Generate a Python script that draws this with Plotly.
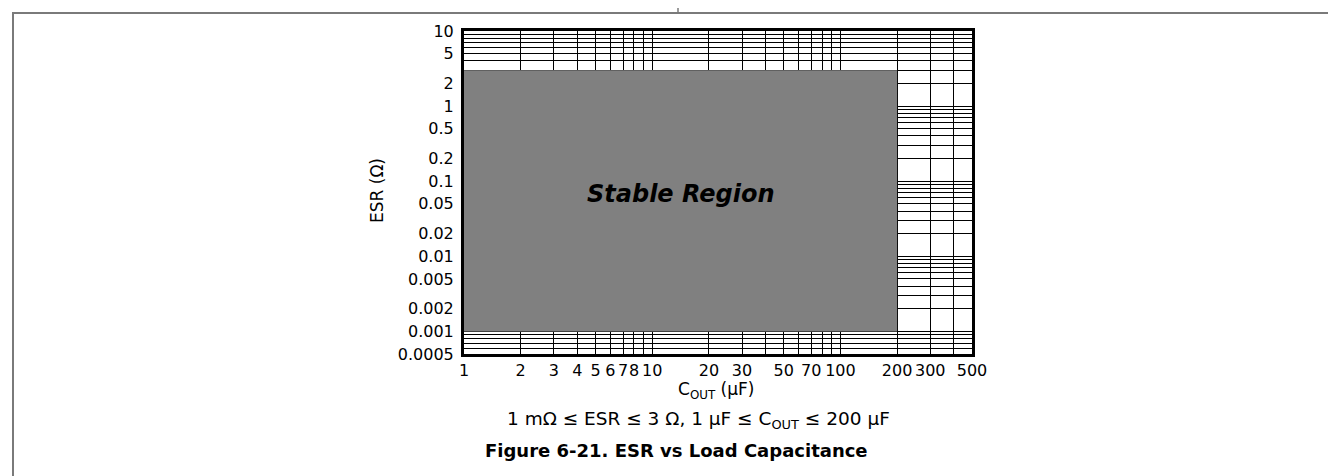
import numpy as np
import plotly.graph_objects as go

# ---- data ----
region_cout = [1, 200]          # µF, stable range of C_OUT
region_esr = [0.001, 3]         # Ω, stable range of ESR
x_tick_vals = [1, 2, 3, 4, 5, 6, 7, 8, 10, 20, 30, 50, 70, 100, 200, 300, 500]
x_tick_text = ["1", "2", "3", "4", "5", "6", "7", "8", "10", "20", "30", "50", "70", "100", "200", "300", "500"]
y_tick_vals = [10, 5, 2, 1, 0.5, 0.2, 0.1, 0.05, 0.02, 0.01, 0.005, 0.002, 0.001, 0.0005]
y_tick_text = ["10", "5", "2", "1", "0.5", "0.2", "0.1", "0.05", "0.02", "0.01", "0.005", "0.002", "0.001", "0.0005"]
x_grid_vals = [m * 10 ** e for e in range(0, 3) for m in range(1, 10)]
y_grid_vals = [m * 10 ** e for e in range(-4, 1) for m in range(1, 10)] + [10]

FONT = "DejaVu Sans, Liberation Sans, Arial, sans-serif"

fig = go.Figure()
fig.add_trace(go.Scatter(
    x=[region_cout[0], region_cout[1], region_cout[1], region_cout[0], region_cout[0]],
    y=[region_esr[0], region_esr[0], region_esr[1], region_esr[1], region_esr[0]],
    fill="toself", fillcolor="#808080", mode="lines", line=dict(width=0, color="#808080"),
    hoverinfo="skip", showlegend=False))

L, R, T, B = 456, 964, 23, 346
W, H = 1336, 476

def px(xp):
    return (xp - L) / (R - L)

def py(yp):
    return (B - yp) / (B - T)

axis_common = dict(
    type="log", showline=True, linecolor="black", linewidth=3, mirror=True,
    ticks="", showgrid=True, gridcolor="black", gridwidth=1, zeroline=False,
    tickfont=dict(family=FONT, size=16, color="black"), tickmode="array", tickangle=0,
)

fig.update_xaxes(**axis_common, range=[0, np.log10(500)], tickvals=x_tick_vals, ticktext=x_tick_text,
                 minor=dict(tickmode="array", tickvals=x_grid_vals, showgrid=True, gridcolor="black", gridwidth=1, ticks=""),
                 ticklabelstandoff=0)
fig.update_yaxes(**axis_common, range=[np.log10(0.0005), 1], tickvals=y_tick_vals, ticktext=y_tick_text,
                 minor=dict(tickmode="array", tickvals=y_grid_vals, showgrid=True, gridcolor="black", gridwidth=1, ticks=""),
                 ticklabelstandoff=4)

ann = []
ann.append(dict(text="<b><i>Stable Region</i></b>", x=px(673), y=py(186), xref="paper", yref="paper",
                showarrow=False, font=dict(family=FONT, size=24, color="black")))
ann.append(dict(text="ESR (Ω)", x=px(357), y=py(183), xref="paper", yref="paper", textangle=-90,
                showarrow=False, font=dict(family=FONT, size=17, color="black")))
ann.append(dict(text="C<sub>OUT</sub> (µF)", x=px(708), y=py(396), xref="paper", yref="paper",
                showarrow=False, font=dict(family=FONT, size=17, color="black")))
ann.append(dict(text="1 mΩ ≤ ESR ≤ 3 Ω, 1 µF ≤ C<sub>OUT</sub> ≤ 200 µF", x=px(690), y=py(426), xref="paper", yref="paper",
                showarrow=False, font=dict(family=FONT, size=18.5, color="black")))
ann.append(dict(text="<b>Figure 6-21. ESR vs Load Capacitance</b>", x=px(668), y=py(455), xref="paper", yref="paper",
                showarrow=False, font=dict(family=FONT, size=18, color="black")))

shapes = []
fc = "#7a7a7a"
shapes.append(dict(type="line", xref="paper", yref="paper", x0=px(5), x1=px(1334), y0=py(5), y1=py(5),
                   line=dict(color=fc, width=2)))
shapes.append(dict(type="line", xref="paper", yref="paper", x0=px(5), x1=px(5), y0=py(4), y1=py(477),
                   line=dict(color=fc, width=2)))
shapes.append(dict(type="line", xref="paper", yref="paper", x0=px(1334), x1=px(1334), y0=py(4), y1=py(477),
                   line=dict(color=fc, width=2)))
shapes.append(dict(type="line", xref="paper", yref="paper", x0=px(670), x1=px(670), y0=py(-1), y1=py(5),
                   line=dict(color=fc, width=1.5)))

fig.update_layout(
    width=W, height=H, margin=dict(l=L, r=W - R, t=T, b=H - B, autoexpand=False),
    paper_bgcolor="white", plot_bgcolor="white", showlegend=False,
    annotations=ann, shapes=shapes,
)

fig.write_html("out.html")
